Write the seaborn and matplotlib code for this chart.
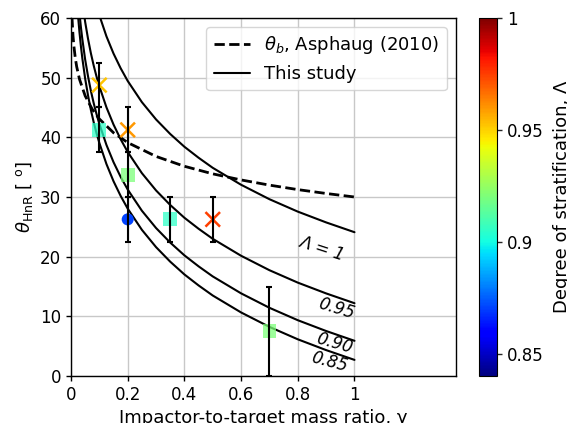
import matplotlib
matplotlib.use("Agg")
import matplotlib.pyplot as plt
from matplotlib.lines import Line2D
from matplotlib.colors import Normalize
from matplotlib.cm import ScalarMappable
import seaborn as sns
import pandas as pd

# ---------------- data ----------------
# Asphaug (2010) grazing angle theta_b (dashed)
gamma_b = [0.002, 0.004, 0.007, 0.01, 0.015, 0.02, 0.03, 0.05, 0.075, 0.1,
           0.15, 0.2, 0.3, 0.4, 0.5, 0.6, 0.7, 0.8, 0.9, 1.0]
theta_b = [62.6, 59.65, 57.07, 55.37, 53.34, 51.86, 49.73, 46.95, 44.70, 43.08,
           40.77, 39.12, 36.80, 35.15, 33.88, 32.86, 31.99, 31.24, 30.59, 30.0]

# "This study" curves for several degrees of stratification
gamma_curve = [0.025, 0.03, 0.035, 0.04, 0.05, 0.06, 0.07, 0.08, 0.09, 0.1,
               0.125, 0.15, 0.175, 0.2, 0.25, 0.3, 0.35, 0.4, 0.45, 0.5,
               0.6, 0.7, 0.8, 0.9, 1.0]
theta_lam_100 = [81.65, 78.95, 76.64, 74.64, 71.22, 68.44, 66.02, 63.94, 62.10, 60.46,
                 56.93, 54.04, 51.59, 49.45, 45.90, 43.00, 40.56, 38.42, 36.58, 34.89,
                 32.05, 29.63, 27.55, 25.74, 24.10]
theta_lam_095 = [69.75, 67.05, 64.74, 62.74, 59.32, 56.54, 54.12, 52.04, 50.20, 48.56,
                 45.03, 42.14, 39.69, 37.55, 34.00, 31.10, 28.66, 26.52, 24.68, 22.99,
                 20.15, 17.73, 15.65, 13.84, 12.20]
theta_lam_090 = [63.45, 60.75, 58.44, 56.44, 53.02, 50.24, 47.82, 45.74, 43.90, 42.26,
                 38.73, 35.84, 33.39, 31.25, 27.70, 24.80, 22.36, 20.22, 18.38, 16.69,
                 13.85, 11.43, 9.35, 7.54, 5.90]
theta_lam_085 = [60.25, 57.55, 55.24, 53.24, 49.82, 47.04, 44.62, 42.54, 40.70, 39.06,
                 35.53, 32.64, 30.19, 28.05, 24.50, 21.60, 19.16, 17.02, 15.18, 13.49,
                 10.65, 8.23, 6.15, 4.34, 2.70]
curve_labels = ["Λ = 1", "0.95", "0.90", "0.85"]

# simulation points
pt_gamma = [0.1, 0.2, 0.5, 0.1, 0.2, 0.35, 0.7, 0.2]
pt_theta = [48.75, 41.25, 26.25, 41.25, 33.75, 26.25, 7.5, 26.25]
pt_err = [3.75, 3.75, 3.75, 3.75, 3.75, 3.75, 7.5, 3.75]
pt_lam = [0.952, 0.960, 0.975, 0.905, 0.920, 0.905, 0.920, 0.870]
pt_kind = ["x", "x", "x", "s", "s", "s", "s", "o"]

x_ticks = [0, 0.2, 0.4, 0.6, 0.8, 1.0]
x_ticklabels = ["0", "0.2", "0.4", "0.6", "0.8", "1"]
y_ticks = [0, 10, 20, 30, 40, 50, 60]
cb_ticks = [0.85, 0.9, 0.95, 1.0]
cb_ticklabels = ["0.85", "0.9", "0.95", "1"]

# ---------------- styling ----------------
sns.set_style("whitegrid", {"axes.edgecolor": "black", "grid.color": "#c8c8c8",
                            "xtick.bottom": True, "ytick.left": True})
plt.rcParams["font.family"] = ["DejaVu Sans"]
plt.rcParams["font.size"] = 12
plt.rcParams["mathtext.fontset"] = "dejavusans"
plt.rcParams["text.color"] = "black"

fig = plt.figure(figsize=(5.67, 4.23), dpi=100)
W, H = 567, 423
ax = fig.add_axes([71 / W, 47 / H, (455.7 - 71) / W, (376 - 18) / H])
cax = fig.add_axes([479.3 / W, 47 / H, 18 / W, (376 - 18) / H])

vmin, vmax = 0.84, 1.0
norm = Normalize(vmin, vmax)
jet = matplotlib.colormaps["jet"]

# curves
sns.lineplot(x=gamma_b, y=theta_b, color="k", linestyle="--", lw=2.0,
             estimator=None, sort=False, ax=ax, legend=False)
for th in [theta_lam_100, theta_lam_095, theta_lam_090, theta_lam_085]:
    sns.lineplot(x=gamma_curve, y=th, color="k", lw=1.5,
                 estimator=None, sort=False, ax=ax, legend=False)

# curve labels
lab_pos = [(0.885, 21.4, -18), (0.935, 11.3, -17), (0.93, 5.5, -16), (0.91, 2.3, -15)]
for (lx, ly, rot), txt in zip(lab_pos, curve_labels):
    ax.text(lx, ly, txt, fontsize=12, fontstyle="italic", rotation=rot,
            ha="center", va="center", rotation_mode="anchor", color="black")

# points
df = pd.DataFrame({"gamma": pt_gamma, "theta": pt_theta, "err": pt_err,
                   "lam": pt_lam, "kind": pt_kind})
sub = df[df.kind == "s"]
sns.scatterplot(data=sub, x="gamma", y="theta", hue="lam", palette=jet,
                hue_norm=norm, marker="s", s=100, alpha=0.75, edgecolor="none",
                legend=False, ax=ax, zorder=2)
sub = df[df.kind == "x"]
sns.scatterplot(data=sub, x="gamma", y="theta", hue="lam", palette=jet,
                hue_norm=norm, marker="x", s=110, linewidth=1.8,
                legend=False, ax=ax, zorder=2)
sub = df[df.kind == "o"]
sns.scatterplot(data=sub, x="gamma", y="theta", hue="lam", palette=jet,
                hue_norm=norm, marker="o", s=75, edgecolor="none",
                legend=False, ax=ax, zorder=2)

ax.errorbar(pt_gamma, pt_theta, yerr=pt_err, fmt="none", ecolor="k",
            elinewidth=1.5, capsize=2.5, capthick=1.5, zorder=3)

# axes
ax.set_xlim(0, 1.357)
ax.set_ylim(0, 60)
ax.set_xticks(x_ticks)
ax.set_xticklabels(x_ticklabels)
ax.set_yticks(y_ticks)
ax.tick_params(axis="both", direction="out", length=3.5, width=1, colors="black",
               labelsize=12, labelcolor="black")
ax.grid(True, color="#c8c8c8", lw=1.0)
for sp in ax.spines.values():
    sp.set_color("black")
    sp.set_linewidth(1.0)
ax.set_xlabel("Impactor-to-target mass ratio, γ", fontsize=13, color="black")
ax.set_ylabel(r"$\theta_{\rm HnR}$ [ $^{\rm o}$]", fontsize=13, color="black")

handles = [Line2D([], [], color="k", ls="--", lw=2, label=r"$\theta_b$, Asphaug (2010)"),
           Line2D([], [], color="k", ls="-", lw=1.5, label="This study")]
ax.legend(handles=handles, loc="upper right", fontsize=13, framealpha=0.8)

# colorbar
sm = ScalarMappable(norm=norm, cmap=jet)
cb = fig.colorbar(sm, cax=cax)
cb.set_ticks(cb_ticks)
cb.set_ticklabels(cb_ticklabels)
cb.ax.tick_params(length=3.5, width=1, labelsize=12, labelcolor="black")
cb.outline.set_edgecolor("black")
cb.set_label("Degree of stratification, Λ", fontsize=13, labelpad=7, color="black")

fig.savefig("out.png", dpi=100)
